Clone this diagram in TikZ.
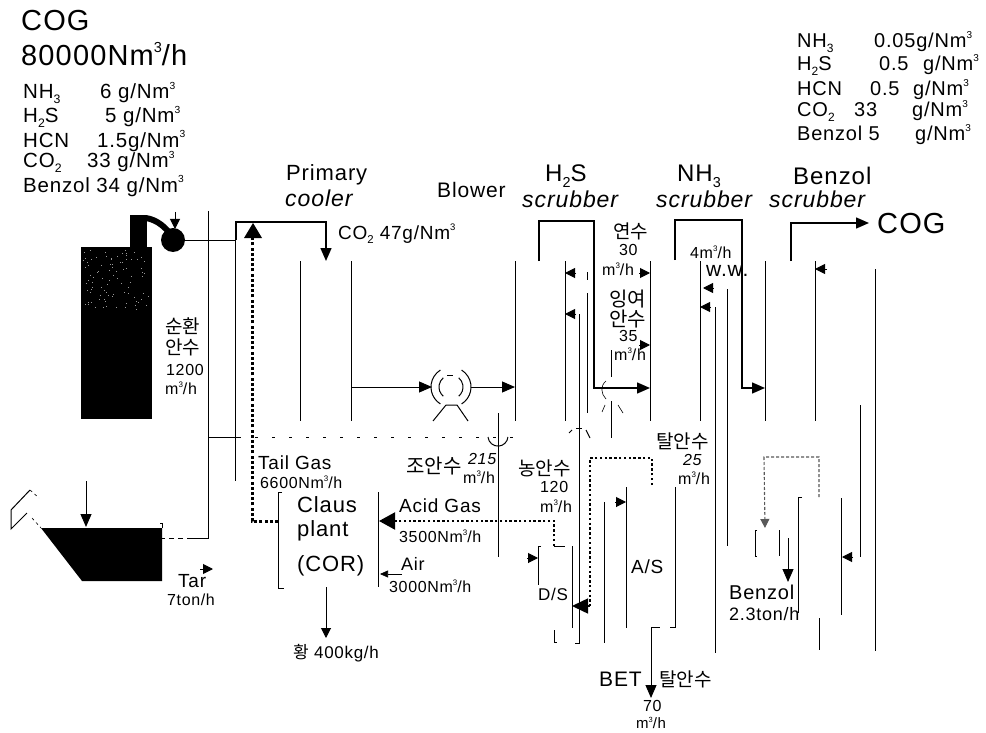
\documentclass[tikz,border=0pt]{standalone}
\usepackage{graphicx}
\usepackage{fontspec}
\setmainfont[LetterSpace=4]{Liberation Sans}
\newfontfamily\krfont{Noto Sans CJK KR}
\usetikzlibrary{arrows.meta}
\tikzset{
 lab/.style={inner sep=0pt,anchor=west,align=left},
 ln/.style={line width=1pt},
 thk/.style={line width=1.5pt},
 thn/.style={line width=0.6pt},
 dot/.style={line width=2pt,dash pattern=on 2.4pt off 2.4pt},
 dotb/.style={line width=3pt,dash pattern=on 3pt off 2.2pt},
 arr/.style={-{Triangle[length=13pt,width=11pt]}},
 arrs/.style={-{Triangle[length=10pt,width=10pt]}},
}
\newcommand{\kr}[1]{{\krfont #1}}
\newcommand{\cub}{\raisebox{0.45em}{\scalebox{0.5}{3}}}
\newcommand{\sbs}[1]{\raisebox{-0.25em}{\scalebox{0.6}{#1}}}
\newcommand{\fs}[1]{\fontsize{#1}{#1}\selectfont}
\begin{document}
\begin{tikzpicture}[x=1pt,y=-1pt]
\useasboundingbox (0,0) rectangle (986,733);
\fill[white] (0,0) rectangle (986,733);
% top-left text
\node[lab,font=\fs{29}] (t1) at (21,21) {COG};
\node[lab,font=\fs{29}] (t2) at (21,54) {80000Nm\cub/h};
\node[lab,font=\fs{20.5}] (a1) at (23,93) {\makebox[77pt][l]{NH\sbs{3}}6 g/Nm\cub};
\node[lab,font=\fs{20.5}] (a2) at (23,117) {\makebox[82pt][l]{H\sbs{2}S}5 g/Nm\cub};
\node[lab,font=\fs{20.5}] (a3) at (23,141) {\makebox[74pt][l]{HCN}1.5g/Nm\cub};
\node[lab,font=\fs{20.5}] (a4) at (23,162) {\makebox[64pt][l]{CO\sbs{2}}33 g/Nm\cub};
\node[lab,font=\fs{20.5}] (a5) at (23,186) {Benzol 34 g/Nm\cub};
% top-right text
\node[lab,font=\fs{20}] (b1) at (797,42) {\makebox[77pt][l]{NH\sbs{3}}0.05g/Nm\cub};
\node[lab,font=\fs{20}] (b2) at (797,65) {\makebox[82pt][l]{H\sbs{2}S}\makebox[44pt][l]{0.5}g/Nm\cub};
\node[lab,font=\fs{20}] (b3) at (797,90) {\makebox[73pt][l]{HCN}\makebox[43pt][l]{0.5}g/Nm\cub};
\node[lab,font=\fs{20}] (b4) at (797,111) {\makebox[57pt][l]{CO\sbs{2}}\makebox[58pt][l]{33}g/Nm\cub};
\node[lab,font=\fs{20}] (b5) at (797,135) {\makebox[118pt][l]{Benzol 5}g/Nm\cub};
% headings
\node[lab,font=\fs{22}] (h1) at (286,175) {Primary};
\node[lab,font=\fs{23}\itshape] (h2) at (285,198) {cooler};
\node[lab,font=\fs{21}] (h3) at (437,190) {Blower};
\node[lab,font=\fs{24}] (h4) at (545,176) {H\sbs{2}S};
\node[lab,font=\fs{23}\itshape] (h5) at (522,199) {scrubber};
\node[lab,font=\fs{24}] (h6) at (677,176) {NH\sbs{3}};
\node[lab,font=\fs{23}\itshape] (h7) at (656,199) {scrubber};
\node[lab,font=\fs{24}] (h8) at (793,176) {Benzol};
\node[lab,font=\fs{23}\itshape] (h9) at (769,199) {scrubber};
\node[lab,font=\fs{29}] (cogout) at (877,224) {COG};
% tank
\fill[black] (81,247) rectangle (152,419);
\fill[black] (130,215) rectangle (147,247);
\draw[line width=6pt] (146,218) .. controls (158,220) and (166,228) .. (172,236);
\node[circle,fill=black,minimum size=24pt,inner sep=0pt] (scr) at (173,240) {};
\pgfmathsetseed{7}
\foreach \i in {1,...,90}{
  \pgfmathsetmacro{\px}{83+rnd*66}
  \pgfmathsetmacro{\py}{249+rnd*60}
  \fill[white!60!black] (\px,\py) rectangle +(1,1);
}
\coordinate (inTop) at (175,212);
\draw[ln,arrs] (inTop) -- (175,229);
% collecting main
\coordinate (j1) at (236,240);
\coordinate (j2) at (236,222);
\coordinate (j3) at (326,222);
\coordinate (coolin) at (326,261);
\draw[ln] (scr) -- (j1);
\draw[thk,arr] (j1) -- (j2) -- (j3) -- (coolin);
\node[lab,font=\fs{19}] (co2) at (338,234) {CO\sbs{2} 47g/Nm\cub};
% side verticals
\draw[ln] (208,211) -- (208,538) -- (192,538);
\draw[thn,dash pattern=on 5pt off 4pt] (192,538) -- (162,538);
\draw[ln] (235,222) -- (235,481);
\draw[thn] (208,437) -- (238,437);
\draw[thn,dash pattern=on 3pt off 14pt] (238,437) -- (515,437);
% text
\node[lab,font=\fs{19}\krfont] (sun) at (165,326) {순환};
\node[lab,font=\fs{19}\krfont] (sun1) at (165,347) {안수};
\node[lab,font=\fs{16}] (sun2) at (166,370) {1200};
\node[lab,font=\fs{16}] (sun3) at (165,388) {m\cub/h};
% cooler
\draw[ln] (300,261) -- (300,421) (351,261) -- (351,421);
% gas main
\coordinate (blowL) at (432,387);
\coordinate (blowR) at (471,387);
\draw[ln,arr] (351,387) -- (blowL);
\draw[ln,arr] (blowR) -- (515,387);
\draw[ln] (451,387) ++(122:20) arc (122:238:20);
\draw[ln] (451,387) ++(58:20) arc (58:-58:20);
\draw[ln] (451,387) ++(130:12) arc (130:230:12);
\draw[ln] (451,387) ++(50:12) arc (50:-50:12);
\draw[ln] (446,405) -- (433,421) (457,405) -- (468,421) (446,405) -- (457,405);
\draw[ln] (447,375) -- (453,375);
% H2S scrubber
\draw[ln] (515,261) -- (515,421) (565,261) -- (565,421);
\coordinate (h2sout) at (539,261);
\draw[thk,arr] (h2sout) -- (539,221) -- (594,221) -- (594,388) -- (650,388);
% NH3 scrubber
\draw[ln] (650,261) -- (650,421) (700,261) -- (700,421);
\coordinate (nh3out) at (675,260);
\draw[thk,arr] (nh3out) -- (675,220) -- (742,220) -- (742,388) -- (765,388);
% Benzol scrubber
\draw[ln] (765,261) -- (765,421) (815,261) -- (815,421);
\coordinate (benout) at (791,261);
\draw[thk,arr] (benout) -- (791,223) -- (869,223);
\draw[ln] (875,269) -- (875,651);
\draw[ln] (860,405) -- (860,557);
\draw[ln,arrs] (853,557) -- (842,557);
\draw[ln,arrs] (827,269) -- (815,269);
% H2S scrubber feeds
\draw[ln] (587,272) -- (587,280) (587,293) -- (587,413);
\draw[ln,arrs] (576,273) -- (565,273);
\draw[ln] (579,314) -- (579,643) -- (575,643);
\draw[ln,arrs] (576,314) -- (565,314);
\node[lab,font=\fs{19}\krfont] (yeon) at (613,231) {연수};
\node[lab,font=\fs{16}] (y1) at (619,250) {30};
\node[lab,font=\fs{16}] (y2) at (602,269) {m\cub/h};
\draw[ln,arrs] (639,273) -- (650,273);
\node[lab,font=\fs{20}\krfont] (ing1) at (609,299) {잉여};
\node[lab,font=\fs{20}\krfont] (ing2) at (609,319) {안수};
\node[lab,font=\fs{16}] (i1) at (619,336) {35};
\node[lab,font=\fs{16}] (i2) at (614,354) {m\cub/h};
\draw[ln,arrs] (639,345) -- (650,345);
\draw[ln] (611,350) -- (611,377) (611,401) -- (611,438);
\draw[thn] (606,381) .. controls (600,386) and (601,394) .. (606,399);
\draw[thn] (602,412) -- (605,405) (618,405) -- (623,413);
% NH3 feeds
\node[lab,font=\fs{16}] (w1) at (690,252) {4m\cub/h};
\node[lab,font=\fs{21}] (w2) at (706,271) {w.w.};
\draw[ln,arrs] (713,288) -- (703,288);
\draw[ln,arrs] (711,307) -- (700,307);
\draw[ln] (715,307) -- (715,653);
\draw[ln] (727,289) -- (727,546);
% pumps
\draw[ln] (498,413) -- (498,557);
\draw[ln] (488,437) arc (175:5:10);
\draw[ln] (569,433) -- (572,430) (586,430) -- (590,438);
\draw[ln] (576,428) -- (582,428);
% labels mid
\node[lab,font=\fs{20}\krfont] (jo) at (406,466) {조안수};
\node[lab,font=\fs{16}\itshape] (jo1) at (468,459) {215};
\node[lab,font=\fs{16}] (jo2) at (463,477) {m\cub/h};
\node[lab,font=\fs{19}\krfont] (nong) at (518,468) {농안수};
\node[lab,font=\fs{16}] (n1) at (540,487) {120};
\node[lab,font=\fs{16}] (n2) at (540,506) {m\cub/h};
\node[lab,font=\fs{19}\krfont] (tal) at (656,441) {탈안수};
\node[lab,font=\fs{16}\itshape] (t25) at (683,460) {25};
\node[lab,font=\fs{16}] (tm) at (678,478) {m\cub/h};
% Claus
\draw[ln] (282,492) -- (278,492) -- (278,588) -- (284,588);
\draw[ln] (378,492) -- (378,587);
\coordinate (clausR) at (379,521);
\coordinate (ds) at (554,546);
\draw[dot,-{Triangle[length=16pt,width=17pt]}] (ds) -- (554,521) -- (clausR);
\draw[ln] (554,546) -- (565,546);
\node[lab,font=\fs{22}] (c1) at (297,505) {Claus};
\node[lab,font=\fs{22}] (c2) at (297,531) {plant};
\node[lab,font=\fs{22}] (c3) at (297,566) {(COR)};
\node[lab,font=\fs{19}] (tg) at (258,463) {Tail Gas};
\node[lab,font=\fs{16}] (tg2) at (260,482) {6600Nm\cub/h};
\node[lab,font=\fs{19}] (ag) at (399,506) {Acid Gas};
\node[lab,font=\fs{16}] (ag2) at (399,536) {3500Nm\cub/h};
\node[lab,font=\fs{18}] (ai) at (401,564) {Air};
\node[lab,font=\fs{16}] (ai2) at (389,586) {3000Nm\cub/h};
\draw[thn,-{Triangle[length=8pt,width=7pt]}] (402,574) -- (380,574);
\coordinate (cb) at (326,587);
\draw[ln,arrs] (cb) -- (326,638);
\node[lab,font=\fs{17}] (su) at (293,653) {{\krfont 황} 400kg/h};
% Tail gas dotted
\coordinate (cl) at (278,521);
\draw[dotb] (cl) -- (252,521) -- (252,236);
\fill[black] (253,223) -- (244,238) -- (262,238) -- cycle;
% sump
\fill[black] (41,528) -- (162,528) -- (162,581) -- (82,581) -- cycle;
\draw[ln] (160,523) -- (162,523) -- (162,528);
\draw[ln,arr] (86,481) -- (86,527);
\draw[ln] (30,490) -- (11,510) -- (11,529) -- (27,513);
\draw[thn,dashed] (30,490) -- (39,498) (32,518) -- (41,528);
\draw[ln,arrs] (200,569) -- (213,569);
\node[lab,font=\fs{19}] (tar) at (178,581) {Tar};
\node[lab,font=\fs{16}] (tar2) at (167,600) {7ton/h};
% D/S
\draw[ln] (541,546) -- (538,546) -- (538,585);
\draw[ln] (572,546) -- (572,628);
\draw[ln,arrs] (527,558) -- (538,558);
\draw[ln] (554,630) -- (554,642) -- (557,642);
\node[lab,font=\fs{17}] (dsl) at (538,594) {D/S};
% A/S
\draw[ln] (626,487) -- (626,628);
\draw[ln] (675,487) -- (675,627) -- (670,627);
\draw[ln] (604,502) -- (604,643);
\draw[ln,arrs] (615,502) -- (626,502);
\node[lab,font=\fs{19}] (asl) at (631,567) {A/S};
\coordinate (ast) at (652,485);
\draw[dot] (ast) -- (652,458) -- (590,458) -- (590,606);
\draw[-{Triangle[length=16pt,width=15pt]},line width=1.5pt] (590,606) -- (572,606);
\coordinate (asb) at (651,627);
\draw[ln] (asb) -- (660,627);
\draw[ln,arr] (asb) -- (651,698);
\node[lab,font=\fs{21}] (bet) at (599,679) {BET};
\node[lab,font=\fs{19}\krfont] (bet2) at (659,679) {탈안수};
\node[lab,font=\fs{16}] (b70) at (643,706) {70};
\node[lab,font=\fs{15}] (bm) at (636,723) {m\cub/h};
% Benzol stripper
\draw[ln] (802,497) -- (798,497) -- (798,613);
\draw[ln] (841,498) -- (841,615);
\draw[ln] (819,618) -- (819,650);
\draw[line width=1.1pt,dash pattern=on 3pt off 2pt,-{Triangle[length=9pt,width=9pt]},gray!70!black] (819,497) -- (819,457) -- (764,457) -- (765,528);
\draw[ln] (757,530) -- (755,530) -- (755,556) -- (757,556);
\draw[ln] (779,530) -- (779,556);
\coordinate (bz) at (788,538);
\draw[ln,arr] (bz) -- (788,582);
\node[lab,font=\fs{20}] (bz1) at (729,592) {Benzol};
\node[lab,font=\fs{18}] (bz2) at (729,614) {2.3ton/h};
\end{tikzpicture}
\end{document}
